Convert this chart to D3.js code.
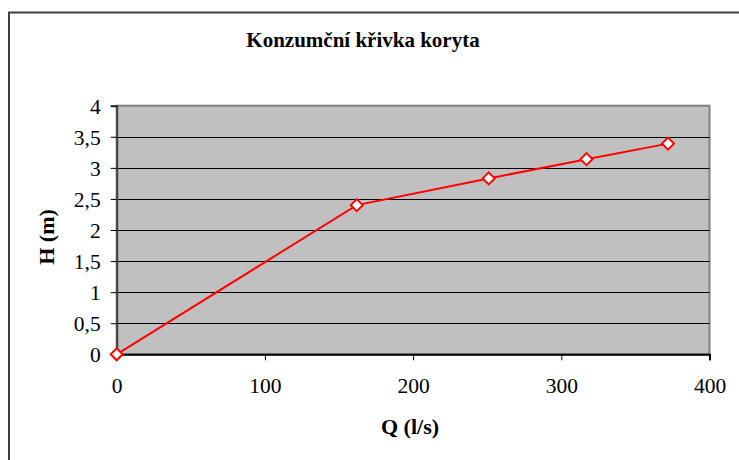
<!DOCTYPE html>
<html>
<head>
<meta charset="utf-8">
<script src="https://cdn.jsdelivr.net/npm/d3@7"></script>
<style>
  html, body { margin: 0; padding: 0; background: #fff; }
  svg { display: block; }
  svg text { font-family: "Liberation Serif", "Times New Roman", Times, "DejaVu Serif", serif; fill: #000; }
</style>
</head>
<body>
<svg id="chart" width="739" height="460"></svg>
<script>
const title = "Konzumční křivka koryta";
const xTitle = "Q (l/s)";
const yTitle = "H (m)";
const qValues = [0, 162, 251, 317, 372];
const hValues = [0, 2.4, 2.83, 3.14, 3.39];
const xTicks = [0, 100, 200, 300, 400];
const yTicks = [0, 0.5, 1, 1.5, 2, 2.5, 3, 3.5, 4];

(function () {
const FONT = '"Liberation Serif", "Times New Roman", Times, "DejaVu Serif", serif';
const svg = d3.select("#chart");
const pLeft = 116.7, pRight = 709.5, pTop = 105.7, pBottom = 354.3;

const x = d3.scaleLinear().domain([0, 400]).range([pLeft, pRight]);
const y = d3.scaleLinear().domain([0, 4]).range([pBottom, pTop]);

// outer frame
svg.append("rect").attr("x", 9).attr("y", 12.5).attr("width", 740).attr("height", 460)
  .attr("fill", "#fff").attr("stroke", "#404040").attr("stroke-width", 2);

// plot area
svg.append("rect").attr("x", pLeft).attr("y", pTop).attr("width", pRight - pLeft).attr("height", pBottom - pTop)
  .attr("fill", "#c0c0c0").attr("stroke", "#808080").attr("stroke-width", 2);

// gridlines
svg.append("g").selectAll("line").data(yTicks.filter(d => d > 0 && d < 4)).join("line")
  .attr("x1", pLeft).attr("x2", pRight)
  .attr("y1", d => Math.round(y(d)) + 0.5).attr("y2", d => Math.round(y(d)) + 0.5)
  .attr("stroke", "#000").attr("stroke-width", 1);

const fmt = d => String(d).replace(".", ",");

// y axis
const yAxis = svg.append("g").attr("transform", `translate(${pLeft},0)`)
  .call(d3.axisLeft(y).tickValues(yTicks).tickFormat(fmt).tickSize(6).tickPadding(10));
yAxis.attr("font-family", null).attr("font-size", null);
yAxis.select(".domain").attr("stroke", "#404040").attr("stroke-width", 2);
yAxis.selectAll(".tick line").attr("stroke", "#000");
yAxis.selectAll("text").style("font-size", "21.5px").style("font-family", FONT).attr("dy", "0.35em");

// x axis
const xAxis = svg.append("g").attr("transform", `translate(0,${pBottom})`)
  .call(d3.axisBottom(x).tickValues(xTicks).tickSize(6).tickPadding(0));
xAxis.attr("font-family", null).attr("font-size", null);
xAxis.select(".domain").attr("stroke", "#000").attr("stroke-width", 2);
xAxis.selectAll(".tick line").attr("stroke", "#000");
xAxis.selectAll("text").style("font-size", "21.5px").style("font-family", FONT)
  .attr("y", 39).attr("dy", 0);

// line
const pts = qValues.map((q, i) => [q, hValues[i]]);
svg.append("path").datum(pts)
  .attr("d", d3.line().x(d => x(d[0])).y(d => y(d[1])))
  .attr("fill", "none").attr("stroke", "#ff0000").attr("stroke-width", 2);

// markers
svg.append("g").selectAll("path").data(pts).join("path")
  .attr("transform", d => `translate(${x(d[0])},${y(d[1])})`)
  .attr("d", "M0,-6L6,0L0,6L-6,0Z")
  .attr("fill", "#fff").attr("stroke", "#ff0000").attr("stroke-width", 2);

// titles
svg.append("text").attr("x", 363).attr("y", 47).attr("text-anchor", "middle")
  .style("font-family", FONT).style("font-size", "21px").style("font-weight", "bold").text(title);
svg.append("text").attr("x", 410).attr("y", 434).attr("text-anchor", "middle")
  .style("font-family", FONT).style("font-size", "22px").style("font-weight", "bold").text(xTitle);
svg.append("text").attr("transform", "translate(54,237) rotate(-90)").attr("text-anchor", "middle")
  .style("font-family", FONT).style("font-size", "22px").style("font-weight", "bold").text(yTitle);
})();
</script>
</body>
</html>
